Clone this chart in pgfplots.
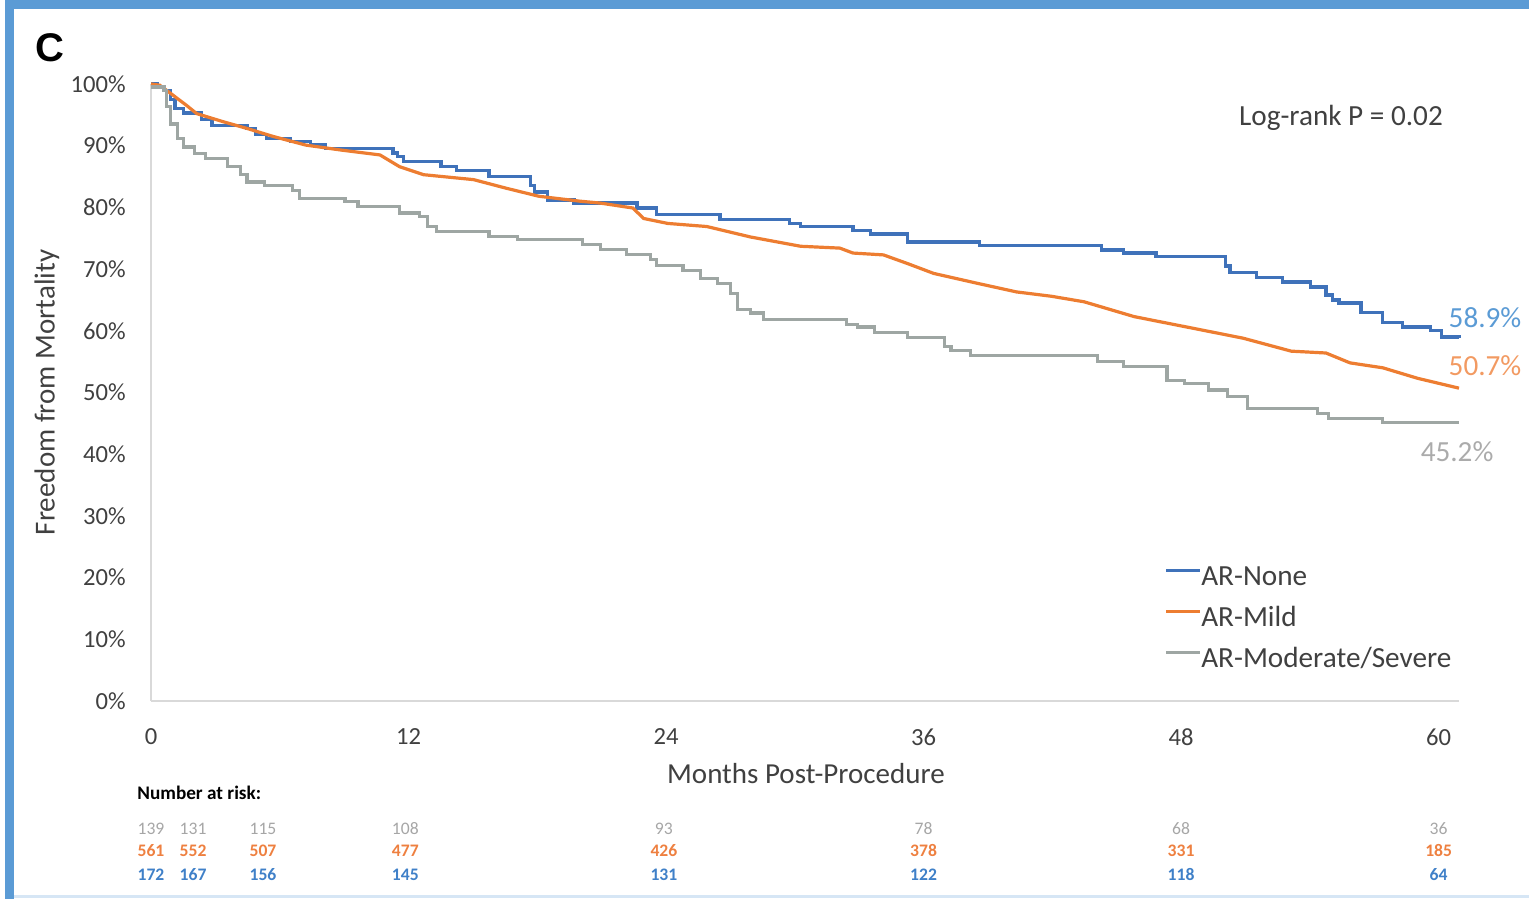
\documentclass[border=0pt]{standalone}
\usepackage{pgfplots}
\pgfplotsset{compat=1.18}
\usepackage{fontspec}
\setmainfont{Carlito}
\newfontfamily\arialfont{Liberation Sans}
\definecolor{cblue}{HTML}{3F72BA}
\definecolor{corange}{HTML}{ED7D31}
\definecolor{cgray}{HTML}{9EA6A3}
\definecolor{lblue}{HTML}{5B9BD5}
\definecolor{lorange}{HTML}{F29A62}
\definecolor{lgray}{HTML}{ABABAB}
\definecolor{frameblue}{HTML}{5B9BD5}
\definecolor{framepale}{HTML}{D6E6F5}
\definecolor{axgray}{HTML}{D9D9D9}
\definecolor{txt}{HTML}{404040}
\definecolor{rgray}{HTML}{A6A6A6}
\definecolor{rorange}{HTML}{EE8040}
\definecolor{rblue}{HTML}{3F80C8}

\newcommand\risk[4]{%
  \node[font=\fontsize{8.8}{10}\selectfont, text=rgray, inner sep=0pt, text height=6pt, text depth=0pt] at (axis cs:#1,-20.6) {#2};
  \node[font=\fontsize{8.8}{10}\selectfont\bfseries, text=rorange, inner sep=0pt, text height=6pt, text depth=0pt] at (axis cs:#1,-24.3) {#3};
  \node[font=\fontsize{8.8}{10}\selectfont\bfseries, text=rblue, inner sep=0pt, text height=6pt, text depth=0pt] at (axis cs:#1,-28.2) {#4};
}

\pgfplotstableread{
x y
0 100
0.30 99.5
0.61 99
0.91 97.5
1.12 96
1.52 95.3
2.34 94.2
2.84 93.3
4.47 92.8
4.88 91.8
5.38 91.2
6.50 90.7
7.42 90.1
8.13 89.6
11.28 88.8
11.48 88.2
11.78 87.4
13.51 86.6
14.22 86.0
15.75 85.0
17.68 83.5
17.88 82.5
18.49 81.2
19.71 80.7
22.65 79.9
23.57 78.8
26.51 78.1
29.76 77.4
30.27 76.9
32.71 76.2
33.52 75.7
35.25 74.4
38.60 73.8
44.29 73.1
45.31 72.6
46.83 72.0
50.08 70.5
50.28 69.5
51.50 68.7
52.72 67.9
54.04 67.1
54.75 65.8
55.06 65.0
55.36 64.5
56.38 63.0
57.40 61.4
58.31 60.6
59.63 60.1
60.14 59.0
60.95 58.9
}\none

\pgfplotstableread{
x y
0 100
0.41 99.8
1.02 98.2
1.63 96.6
2.13 95.2
3.35 93.9
4.47 92.8
5.69 91.5
7.21 90.1
8.84 89.3
10.67 88.5
11.58 86.6
12.70 85.3
15.03 84.5
16.56 83.1
18.08 81.8
20.01 81.0
20.93 80.7
22.45 79.9
22.96 78.2
24.08 77.4
25.90 76.9
27.94 75.2
30.27 73.7
32.10 73.4
32.71 72.6
34.13 72.3
35.25 70.9
36.47 69.3
38.50 67.7
40.33 66.3
41.95 65.6
43.48 64.7
45.81 62.3
48.86 60.2
50.89 58.8
53.13 56.7
54.75 56.4
55.87 54.8
57.40 54.0
59.02 52.3
60.95 50.7
}\mild

\pgfplotstableread{
x y
0 99.5
0.61 99
0.71 96.3
0.91 93.5
1.22 91.2
1.52 89.8
2.03 88.7
2.54 87.9
3.56 86.6
4.17 85.3
4.47 84.1
5.28 83.6
6.60 82.8
6.91 81.5
9.04 81.0
9.65 80.1
11.58 79.1
12.50 78.5
12.90 76.9
13.31 76.1
15.75 75.3
17.07 74.8
20.11 74.0
20.93 73.2
22.15 72.4
23.26 71.5
23.57 70.6
24.79 69.8
25.60 68.5
26.41 67.7
27.02 66.1
27.33 63.5
27.94 62.9
28.55 61.8
32.41 61.0
32.91 60.6
33.73 59.7
35.25 58.9
36.98 57.5
37.28 56.8
38.20 56.0
44.09 55.0
45.31 54.2
47.34 52.0
48.15 51.5
49.27 50.4
50.18 49.3
51.10 47.4
54.35 46.6
54.86 45.8
57.40 45.2
60.95 45.2
}\modsev

\begin{document}
\begin{tikzpicture}
\useasboundingbox (0,0) rectangle (764.5pt,449.5pt);
\begin{scope}[x=0.5pt,y=-0.5pt,shift={(0,449.5pt)}]
\fill[framepale] (14,895) rectangle (1529,898);
\fill[frameblue] (5,0) rectangle (1529,9);
\fill[frameblue] (5,0) rectangle (14,899);
\node[font=\arialfont\fontsize{20}{24}\selectfont\bfseries, text=black] at (50,48) {C};
\end{scope}
\begin{axis}[
  at={(75.5pt,99pt)}, anchor=south west,
  scale only axis, width=654pt, height=308.5pt,
  xmin=0, xmax=60.95, ymin=0, ymax=100,
  axis x line*=bottom, axis y line*=left,
  axis line style={draw=axgray, line width=0.8pt, -},
  xtick={0,12,24,36,48,60}, ytick={0,10,...,100},
  major tick length=0pt,
  /pgf/number format/assume math mode=true,
  tick label style={font=\fontsize{12.3}{14}\selectfont, text=txt, inner sep=0pt},
  yticklabel={\pgfmathprintnumber{\tick}\%},
  yticklabel style={anchor=east, xshift=-12.5pt},
  xticklabel style={anchor=north, yshift=-13.5pt},
  clip=false,
  legend cell align=left,
  legend style={at={(0.775,0.222)}, anchor=north west, draw=none, fill=none,
    font=\fontsize{14.6}{17}\selectfont, text=txt, inner sep=0pt, row sep=7.2pt,
    nodes={inner sep=0pt, text height=10.3pt, text depth=3pt}},
  legend image code/.code={\draw[#1, line width=1.1pt] (0pt,3.6pt) -- (17pt,3.6pt);},
]
\addplot[const plot, cblue, line width=1.6pt] table[x=x,y=y] {\none};
\addlegendentry{AR-None}
\addplot[corange, line width=1.6pt] table[x=x,y=y] {\mild};
\addlegendentry{AR-Mild}
\addplot[const plot, cgray, line width=1.6pt] table[x=x,y=y] {\modsev};
\addlegendentry{AR-Moderate/Severe}

\node[font=\fontsize{14.6}{17}\selectfont, text=lblue, anchor=west, inner sep=0pt] at (axis cs:60.45,62.2) {58.9\%};
\node[font=\fontsize{14.6}{17}\selectfont, text=lorange, anchor=west, inner sep=0pt] at (axis cs:60.45,54.3) {50.7\%};
\node[font=\fontsize{14.6}{17}\selectfont, text=lgray, inner sep=0pt] at (axis cs:60.86,40.4) {45.2\%};
\node[font=\fontsize{14.6}{17}\selectfont, text=txt, inner sep=0pt] at (axis cs:55.45,94.5) {Log-rank P = 0.02};

\node[font=\fontsize{14.5}{17}\selectfont, text=txt, inner sep=0pt] at (axis cs:30.52,-11.7) {Months Post-Procedure};
\node[font=\fontsize{14.5}{17}\selectfont, text=txt, inner sep=0pt, rotate=90] at (axis cs:-4.85,50) {Freedom from Mortality};

\node[font=\fontsize{9.6}{11}\selectfont\bfseries, text=black, anchor=west, inner sep=0pt] at (axis cs:-0.65,-14.9) {Number at risk:};
\risk{0}{139}{561}{172}
\risk{1.96}{131}{552}{167}
\risk{5.22}{115}{507}{156}
\risk{11.85}{108}{477}{145}
\risk{23.9}{93}{426}{131}
\risk{36}{78}{378}{122}
\risk{48}{68}{331}{118}
\risk{60}{36}{185}{64}
\end{axis}
\end{tikzpicture}
\end{document}
